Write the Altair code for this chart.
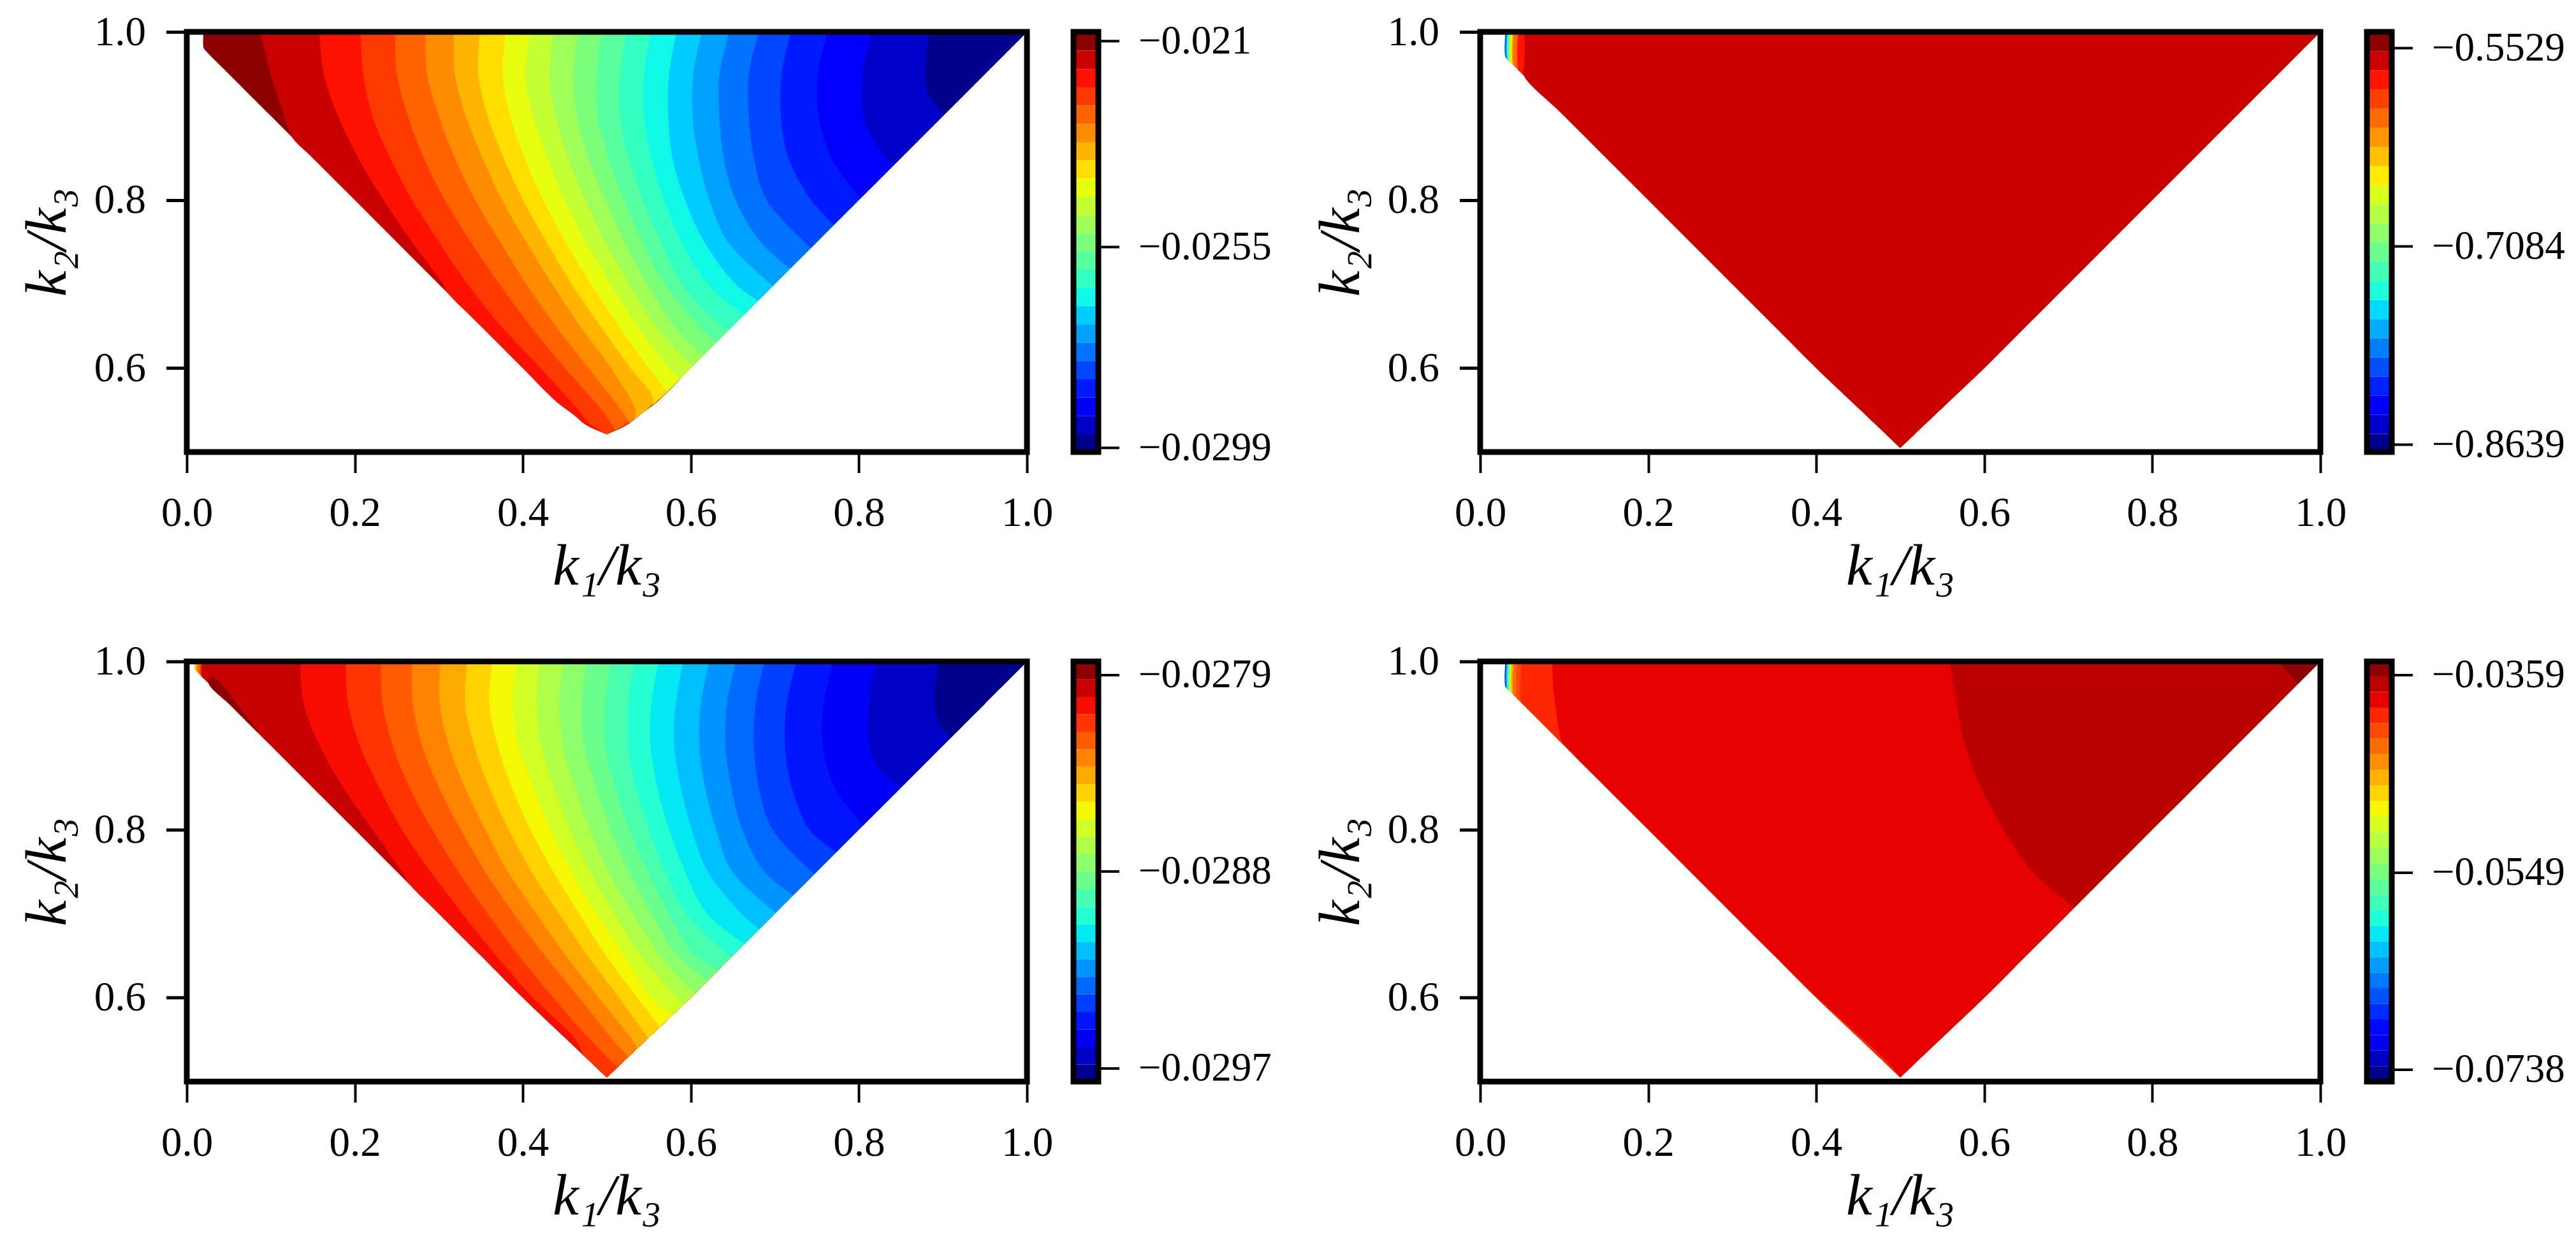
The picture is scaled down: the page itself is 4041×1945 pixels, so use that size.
import altair as alt
import numpy as np
import pandas as pd

FONT = "Liberation Serif"

# ---------- colour-bar levels (values, top to bottom) and colours ----------
P1_LEVELS = [-0.020798, -0.02121, -0.02161, -0.02201, -0.02241, -0.02281, -0.02321, -0.02361, -0.02401,
             -0.02441, -0.02481, -0.02521, -0.02560, -0.02600, -0.02640, -0.02680, -0.02720, -0.02760,
             -0.02800, -0.02840, -0.02880, -0.02920, -0.02960, -0.029991]
P1_COLORS = ["#8c0000", "#c90000", "#ff1100", "#ff3a00", "#ff6300", "#ff8c00", "#ffb500", "#ffde00", "#e7ff0f",
             "#c3ff33", "#9fff57", "#7bff7b", "#57ff9f", "#33ffc3", "#10f9e7", "#00ccff", "#00a0ff", "#0073ff",
             "#0047ff", "#001aff", "#0000fc", "#0000c9", "#00008c"]
P1_TICKS = [-0.021, -0.0255, -0.0299]

P2_LEVELS = [-0.54022, -0.5556, -0.5706, -0.5856, -0.6006, -0.6156, -0.6306, -0.6456, -0.6606, -0.6756, -0.6906,
             -0.7056, -0.7206, -0.7356, -0.7506, -0.7656, -0.7806, -0.7956, -0.8106, -0.8256, -0.8406, -0.8556,
             -0.8699]
P2_COLORS = ["#8c0000", "#cb0000", "#ff1400", "#ff3f00", "#ff6a00", "#ff9600", "#ffc100", "#ffec00", "#d9ff1d",
             "#b4ff43", "#8eff69", "#69ff8e", "#43ffb4", "#1dffd9", "#00dbff", "#00adff", "#007eff", "#004fff",
             "#0021ff", "#0000ff", "#0000cc", "#00008c"]
P2_TICKS = [-0.5529, -0.7084, -0.8639]

P3_LEVELS = [-0.027840, -0.027922, -0.028002, -0.028082, -0.028162, -0.028242, -0.028322, -0.028402, -0.028482,
             -0.028562, -0.028642, -0.028722, -0.028802, -0.028882, -0.028962, -0.029042, -0.029122, -0.029202,
             -0.029282, -0.029362, -0.029442, -0.029522, -0.029602, -0.029682, -0.029761]
P3_COLORS = ["#8c0000", "#c70000", "#f70d00", "#ff3400", "#ff5b00", "#ff8300", "#ffaa00", "#ffd200", "#f4f903",
             "#d1ff25", "#afff48", "#8cff6a", "#6aff8c", "#48ffaf", "#25ffd1", "#03e9f4", "#00bfff", "#0094ff",
             "#006aff", "#003fff", "#0015ff", "#0000f7", "#0000c7", "#00008c"]
P3_TICKS = [-0.0279, -0.0288, -0.0297]

P4_LEVELS = [-0.03460, -0.03604, -0.03754, -0.03904, -0.04053, -0.04203, -0.04353, -0.04503, -0.04653, -0.04803,
             -0.04952, -0.05102, -0.05252, -0.05402, -0.05552, -0.05702, -0.05851, -0.06001, -0.06151, -0.06301,
             -0.06451, -0.06601, -0.06750, -0.06900, -0.07050, -0.07200, -0.07350, -0.07498]
P4_COLORS = ["#8c0000", "#bb0000", "#e80000", "#ff2600", "#ff4900", "#ff6c00", "#ff8f00", "#ffb200", "#ffd500",
             "#f5f802", "#d6ff20", "#b8ff3f", "#9aff5d", "#7bff7b", "#5dff9a", "#3fffb8", "#20ffd6", "#02e8f5",
             "#00c2ff", "#009cff", "#0077ff", "#0051ff", "#002bff", "#0006ff", "#0000ec", "#0000c1", "#00008c"]
P4_TICKS = [-0.0359, -0.0549, -0.0738]

# ---------- triangle edges (k2, k1) ----------
P1_EDGE = ([0.5213, 0.5315, 0.545, 0.56, 1.0], [0.5, 0.5227, 0.54, 0.56, 1.0])
APEX_EDGE = ([0.505, 0.6, 1.0], [0.5, 0.6, 1.0])
P1_LEFT_K = [.95, .9, .85, .8, .75, .7, .65, .6, .56, .545, .5325, .5213]
P1_LEFT_X = [.05, .1, .15, .2, .25, .3, .35, .4, .44, .46, .475, .5]
APEX_LEFT_K = [.95, .9, .85, .8, .75, .7, .65, .6, .55, .52, .505]
APEX_LEFT_X = [.05, .1, .15, .2, .25, .3, .35, .4, .4526, .4842, .5]

# ---------- panel 1 contours: (k2 values, k1 values), left to right ----------
ROWS = [1, .95, .9, .85, .8, .75, .7, .65, .6, .55]
P1_CONTOURS = [
    ([1, .981, .977], [.02, .02, .023]),
    ([1, .95, .9, .875], [.087, .100, .116, .125]),
    ([1, .95, .9, .85, .8, .75, .7, .69], [.158, .163, .180, .204, .234, .268, .305, .31]),
    (ROWS + [.535], [.207, .210, .221, .242, .268, .300, .334, .374, .421, .466, .478]),
    (ROWS + [.526], [.248, .250, .263, .282, .307, .338, .372, .409, .450, .494, .512]),
    (ROWS + [.535], [.284, .286, .300, .319, .343, .373, .404, .439, .478, .517, .527]),
    (ROWS + [.54], [.318, .319, .332, .352, .375, .404, .435, .468, .505, .534, .54]),
    (ROWS[:-1] + [.565, .556], [.349, .347, .358, .377, .400, .428, .458, .492, .528, .555, .556]),
    (ROWS[:-1] + [.572], [.380, .376, .385, .402, .424, .451, .481, .514, .550, .572]),
    (ROWS[:-1] + [.587], [.409, .403, .412, .429, .450, .475, .504, .536, .574, .587]),
    (ROWS[:-2] + [.602], [.437, .432, .439, .454, .474, .498, .527, .558, .602]),
    (ROWS[:-2] + [.615], [.466, .460, .464, .478, .498, .521, .548, .580, .615]),
    (ROWS[:-2] + [.63], [.494, .488, .489, .502, .520, .542, .569, .609, .63]),
    (ROWS[:-2] + [.646], [.523, .516, .516, .526, .543, .564, .589, .636, .646]),
    (ROWS[:-3] + [.663], [.553, .544, .544, .553, .568, .589, .620, .663]),
    (ROWS[:-3] + [.68], [.583, .574, .573, .578, .593, .616, .653, .68]),
    (ROWS[:-4] + [.6985], [.613, .603, .602, .609, .622, .644, .697]),
    (ROWS[:-4] + [.719], [.646, .634, .634, .639, .653, .683, .717]),
    (ROWS[:-4] + [.7425], [.681, .669, .669, .675, .690, .735, .7425]),
    (ROWS[:-5] + [.77], [.719, .708, .707, .716, .743, .770]),
    ([1, .95, .9, .85, .802], [.763, .751, .752, .767, .802]),
    ([1, .95, .9, .86, .842], [.815, .804, .805, .824, .842]),
    ([1, .97, .93, .9018], [.884, .880, .881, .901]),
]
P1_LEFT_ENDING = [0, 1, 2, 3]

# ---------- panel 3 contours ----------
P3_CORNER = [  # colour index, k1 start at top, k2 where it meets the left edge
    (7, .0095, .9904), (5, .012, .988), (4, .0145, .9855), (2, .017, .983), (1, .0187, .9813),
]
P3_DARK_K = [.9825, .974, .946, .916]
P3_DARK_L = [.0285, .026, .054, .084]
P3_DARK_R = [.0297, .0406, .062, .086]
P3_CONTOURS = [
    ([1, .95, .9, .85, .8, .75, .734], [.135, .139, .158, .186, .221, .256, .266]),
    (ROWS + [.53], [.189, .192, .206, .229, .256, .290, .328, .368, .412, .463, .4735]),
    (ROWS + [.518], [.231, .233, .245, .265, .292, .323, .358, .395, .436, .48, .511]),
    (ROWS + [.529], [.268, .269, .280, .300, .326, .355, .389, .426, .467, .507, .529]),
    (ROWS + [.5395], [.302, .301, .312, .331, .355, .382, .416, .451, .490, .53, .5395]),
    (ROWS[:-1] + [.552], [.334, .331, .342, .360, .383, .410, .443, .477, .514, .552]),
    (ROWS[:-1] + [.565], [.364, .360, .370, .387, .409, .436, .467, .499, .536, .565]),
    (ROWS[:-1] + [.58], [.393, .388, .395, .412, .433, .458, .488, .521, .553, .58]),
    (ROWS[:-2] + [.592], [.420, .416, .422, .437, .456, .480, .509, .541, .592]),
    (ROWS[:-2] + [.605], [.449, .443, .448, .462, .480, .502, .531, .563, .605]),
    (ROWS[:-2] + [.62], [.477, .470, .473, .487, .504, .526, .553, .584, .62]),
    (ROWS[:-2] + [.633], [.505, .498, .498, .510, .527, .548, .574, .605, .633]),
    (ROWS[:-3] + [.648], [.533, .525, .525, .534, .550, .569, .595, .648]),
    (ROWS[:-3] + [.664], [.562, .553, .552, .560, .574, .593, .619, .664]),
    (ROWS[:-3] + [.6816], [.591, .582, .580, .588, .601, .620, .660, .6816]),
    (ROWS[:-4] + [.701], [.622, .612, .610, .617, .630, .649, .701]),
    (ROWS[:-4] + [.722], [.654, .643, .641, .648, .661, .687, .722]),
    (ROWS[:-5] + [.747], [.688, .677, .675, .681, .697, .747]),
    (ROWS[:-5] + [.773], [.726, .714, .712, .720, .741, .773]),
    ([1, .95, .9, .85, .805], [.770, .758, .757, .771, .805]),
    ([1, .95, .9, .87, .85], [.820, .812, .812, .825, .85]),
    ([1, .95, .927, .9085], [.895, .890, .895, .9085]),
]

# ---------- panel 2: narrow strips at the corner, then one big band ----------
P2_STRIP_X = [.03, .0315, .0325, .034, .0355, .037, .0388, .0406, .0452]
P2_STRIP_I = [17, 15, 13, 11, 9, 7, 5, 4, 2]
P2_MAIN_K = [1, .975, .96, .948]
P2_MAIN_X = [.0527, .053, .052, .052]

# ---------- panel 4 ----------
P4_STRIP_X = [.03, .0315, .033, .035, .0376, .0396, .0439, .049]
P4_STRIP_I = [22, 18, 15, 11, 7, 5, 4, 3]
P4_RED_K = [1, .969, .9465, .9215, .906, .89, .85, .8, .75, .7, .65, .6, .55, .52, .505]
P4_RED_X = [.0856, .0869, .0894, .0932, .0965, .11, .15, .2, .25, .3, .35, .401, .4566, .4875, .5]
P4_DARK_K = [1, .95, .9, .85, .8, .75, .707]
P4_DARK_X = [.559, .567, .577, .596, .623, .657, .707]
P4_DARKEST_K = [1, .973]
P4_DARKEST_X = [.9505, .973]


def with_tail(ks, xs, left_k, left_x):
    """Continue a contour that reached the left edge down that edge to the apex."""
    ks, xs = list(ks), list(xs)
    for k, x in zip(left_k, left_x):
        if k < ks[-1] - 0.004:
            ks.append(k)
            xs.append(x)
    return ks, xs


def rows(bands, edge):
    out = []
    for i, (color, ks, xs, rights) in enumerate(bands):
        for j, (k, x) in enumerate(zip(ks, xs)):
            r = rights[j] if rights is not None else float(np.interp(k, edge[0], edge[1]))
            out.append({"band": i, "color": color, "k2": k, "x": min(x, r), "right": r})
    return pd.DataFrame(out)


def bands_p1():
    b = []
    for i, (ks, xs) in enumerate(P1_CONTOURS):
        if i in P1_LEFT_ENDING:
            ks, xs = with_tail(ks, xs, P1_LEFT_K, P1_LEFT_X)
        b.append((P1_COLORS[i], list(ks), list(xs), None))
    return b


def strip(color, x0):
    kh = round(1 - x0, 4)
    ks, xs = with_tail([1, kh, kh - .003], [x0, x0, x0 + .003], APEX_LEFT_K, APEX_LEFT_X)
    return (color, ks, xs, None)


def bands_p3():
    b = []
    for idx, x0, kh in P3_CORNER:
        b.append(strip(P3_COLORS[idx], x0))
    b.append((P3_COLORS[0], P3_DARK_K, P3_DARK_L, P3_DARK_R))
    for i, (ks, xs) in enumerate(P3_CONTOURS):
        if i < 2:
            ks, xs = with_tail(ks, xs, APEX_LEFT_K, APEX_LEFT_X)
        b.append((P3_COLORS[i + 2], list(ks), list(xs), None))
    return b


def bands_p2():
    b = [strip(P2_COLORS[idx], x0) for idx, x0 in zip(P2_STRIP_I, P2_STRIP_X)]
    ks, xs = with_tail(P2_MAIN_K, P2_MAIN_X, APEX_LEFT_K, APEX_LEFT_X)
    b.append((P2_COLORS[1], ks, xs, None))
    return b


def bands_p4():
    b = [strip(P4_COLORS[idx], x0) for idx, x0 in zip(P4_STRIP_I, P4_STRIP_X)]
    b.append((P4_COLORS[2], P4_RED_K, P4_RED_X, None))
    b.append((P4_COLORS[1], P4_DARK_K, P4_DARK_X, None))
    b.append((P4_COLORS[0], P4_DARKEST_K, P4_DARKEST_X, None))
    return b


W, H = 1318, 659
CB_L, CB_R = 1391, 1430
ONE = pd.DataFrame({"a": [0]})
AX = dict(grid=False, domain=False, tickColor="black", tickSize=32.5, labelFont=FONT, labelColor="black",
          labelLimit=500, labelFlush=False, labelOverlap=False)
TITLE = dict(titleFont=FONT, titleFontSize=92, titleFontStyle="italic", titleFontWeight="normal", titleColor="black")


def panel(bands, edge, levels, colors, ticks, xtitle, ytitle):
    df = rows(bands, edge)
    field = (
        alt.Chart(df)
        .mark_area(orient="horizontal", interpolate="catmull-rom")
        .encode(
            y=alt.Y(
                "k2:Q",
                scale=alt.Scale(domain=[0.5, 1.0], nice=False, zero=False),
                axis=alt.Axis(values=[0.6, 0.8, 1.0], format=".1f", title=ytitle, orient="left", tickWidth=5,
                              labelFontSize=65, labelPadding=32, titlePadding=26, **AX, **TITLE),
            ),
            x=alt.X(
                "x:Q", stack=None,
                scale=alt.Scale(domain=[0.0, 1.0], nice=False, zero=False),
                axis=alt.Axis(values=[0.0, 0.2, 0.4, 0.6, 0.8, 1.0], format=".1f", title=xtitle, tickWidth=4,
                              labelFontSize=65, labelPadding=32, titlePadding=6, **AX, **TITLE),
            ),
            x2="right:Q",
            color=alt.Color("color:N", scale=None),
            detail="band:O",
        )
    )
    cb_df = pd.DataFrame({"hi": levels[:-1], "lo": levels[1:], "c": colors})
    cbar = (
        alt.Chart(cb_df)
        .mark_rect()
        .encode(
            x=alt.value(CB_L),
            x2=alt.value(CB_R),
            y=alt.Y(
                "hi:Q",
                scale=alt.Scale(domain=[levels[-1], levels[0]], nice=False, zero=False),
                axis=alt.Axis(orient="right", offset=CB_R - W, values=ticks, format=".4~f", title=None, tickWidth=4,
                              labelFontSize=63, labelPadding=30, **AX),
            ),
            y2="lo:Q",
            color=alt.Color("c:N", scale=None),
        )
    )
    frame = (
        alt.Chart(ONE)
        .mark_rect(fillOpacity=0, stroke="black", strokeWidth=9)
        .encode(x=alt.value(0), x2=alt.value(W), y=alt.value(0), y2=alt.value(H))
    )
    cframe = (
        alt.Chart(ONE)
        .mark_rect(fillOpacity=0, stroke="black", strokeWidth=9)
        .encode(x=alt.value(CB_L), x2=alt.value(CB_R), y=alt.value(0), y2=alt.value(H))
    )
    return (
        alt.layer(field, cbar, frame, cframe)
        .resolve_scale(y="independent", color="independent")
        .properties(width=W, height=H)
    )


XT = "k\u2081/k\u2083"
YT = "k\u2082/k\u2083"
p1 = panel(bands_p1(), P1_EDGE, P1_LEVELS, P1_COLORS, P1_TICKS, XT, YT)
p2 = panel(bands_p2(), APEX_EDGE, P2_LEVELS, P2_COLORS, P2_TICKS, XT, YT)
p3 = panel(bands_p3(), APEX_EDGE, P3_LEVELS, P3_COLORS, P3_TICKS, XT, YT)
p4 = panel(bands_p4(), APEX_EDGE, P4_LEVELS, P4_COLORS, P4_TICKS, XT, YT)

chart = (
    alt.concat(p1, p2, p3, p4, columns=2, spacing={"row": 328.5, "column": 711}, bounds="flush")
    .properties(padding={"left": 20, "top": 10, "right": 5, "bottom": 5}, background="white")
    .configure_view(stroke=None)
)
chart.save("out.html", embed_options={"renderer": "svg", "actions": False})
